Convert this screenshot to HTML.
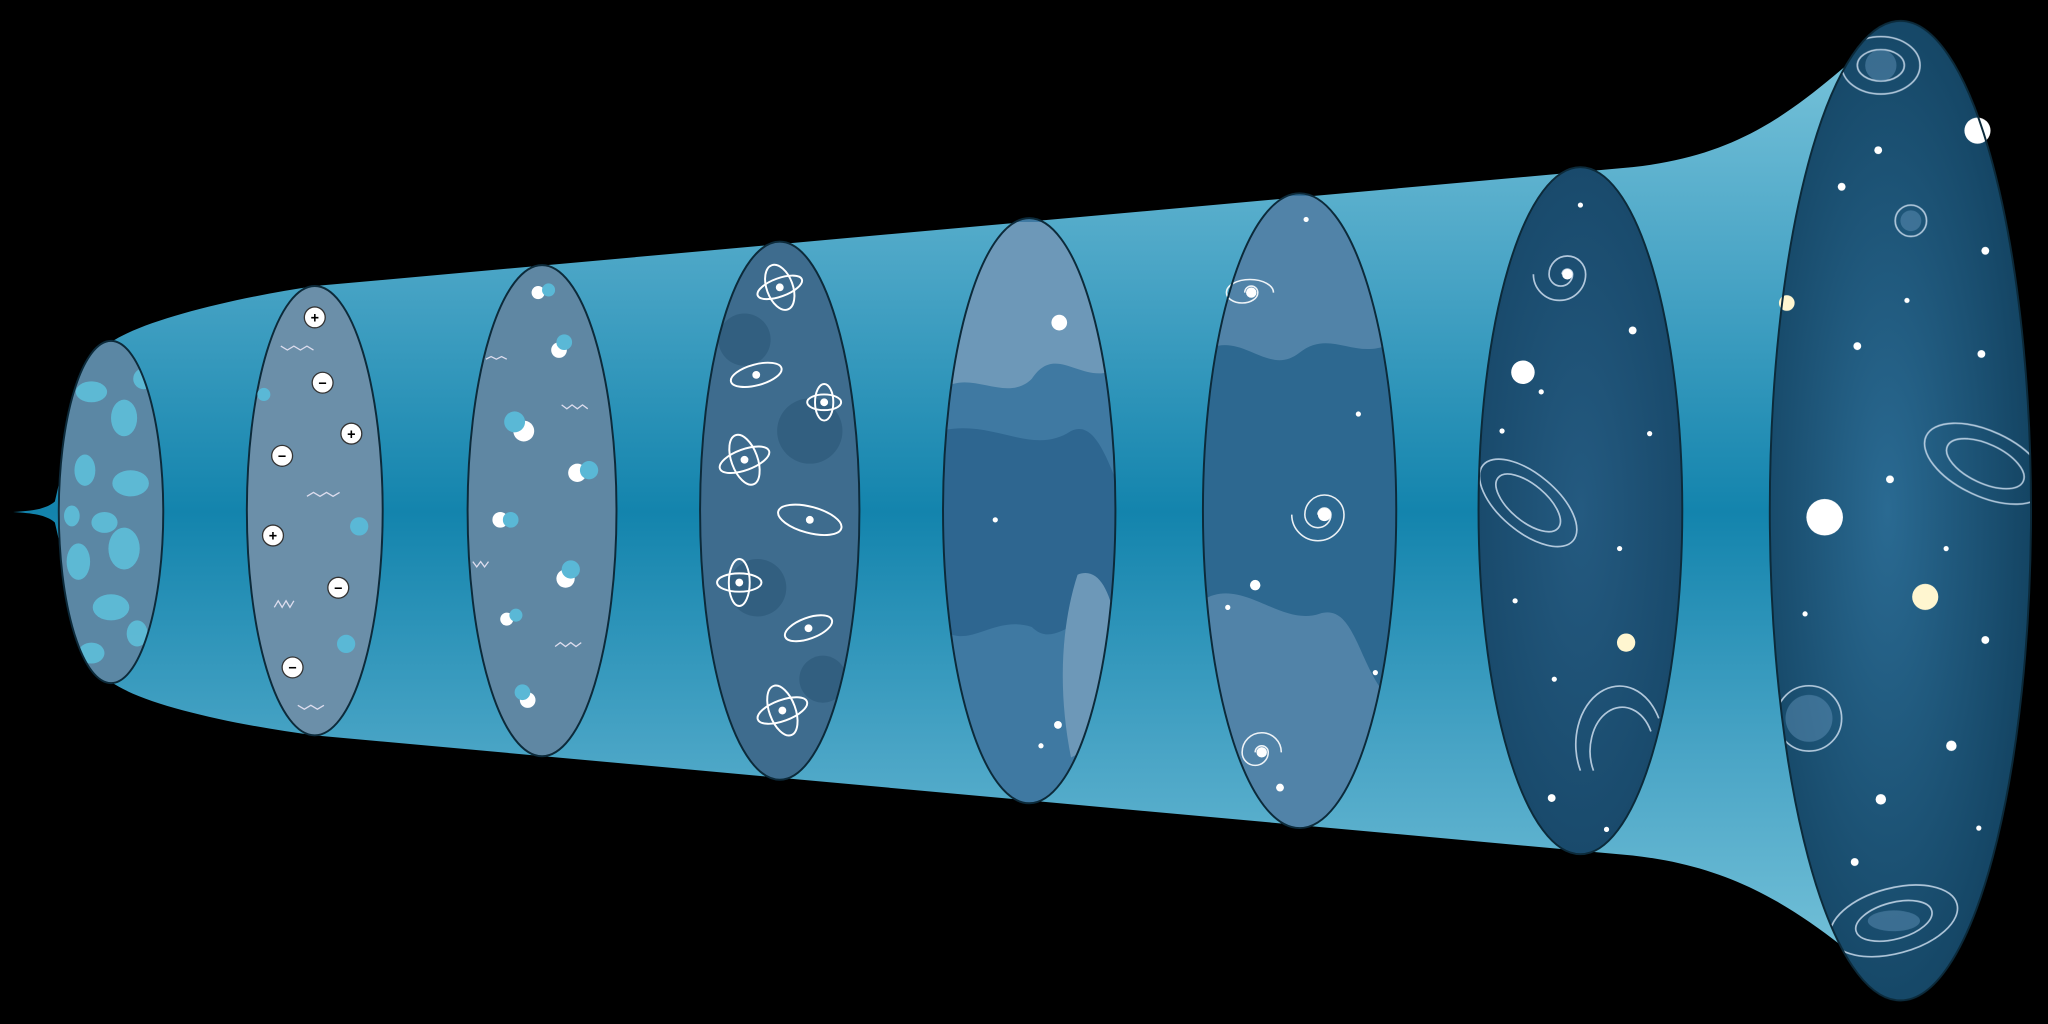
<!DOCTYPE html>
<html><head><meta charset="utf-8"><style>
html,body{margin:0;padding:0;background:#000;width:2048px;height:1024px;overflow:hidden}
svg{display:block}
</style></head><body>
<svg width="2048" height="1024" viewBox="0 0 1568 784" xmlns="http://www.w3.org/2000/svg">
<defs>
<linearGradient id="fun" x1="0" y1="0" x2="0" y2="1">
<stop offset="0" stop-color="#7cc6dc"/><stop offset="0.25" stop-color="#4aa5c6"/>
<stop offset="0.5" stop-color="#1384ad"/><stop offset="0.75" stop-color="#4aa5c6"/>
<stop offset="1" stop-color="#7cc6dc"/></linearGradient>
<radialGradient id="e8" cx="0.45" cy="0.5" r="0.6"><stop offset="0" stop-color="#2a6a92"/><stop offset="1" stop-color="#12415f"/></radialGradient>
<radialGradient id="e7" cx="0.5" cy="0.5" r="0.6"><stop offset="0" stop-color="#245a80"/><stop offset="1" stop-color="#174768"/></radialGradient>
<clipPath id="c1"><ellipse cx="85" cy="392" rx="40" ry="131"/></clipPath>
<clipPath id="c4"><ellipse cx="597" cy="391" rx="61" ry="206"/></clipPath>
<clipPath id="c5"><ellipse cx="788" cy="391" rx="66" ry="224"/></clipPath>
<clipPath id="c6"><ellipse cx="995" cy="391" rx="74" ry="243"/></clipPath>
<clipPath id="c8"><ellipse cx="1455" cy="391" rx="100" ry="375"/></clipPath>
</defs>
<rect width="1568" height="784" fill="#000"/>
<path fill="url(#fun)" d="M10,392 C25,391 35,390 42,384 C55,330 60,280 85,262 C110,245 180,228 241,219 L1250,128 C1340,118 1380,80 1450,18 L1460,766 C1390,705 1340,665 1250,655 L241,563 C180,555 110,540 85,522 C60,505 55,455 42,400 C35,394 25,393 10,392 Z"/>

<g>
<ellipse cx="85" cy="392" rx="40" ry="131" fill="#5b87a4"/>
<g clip-path="url(#c1)" fill="#5fc2dd" opacity="0.85">
<ellipse cx="70" cy="300" rx="12" ry="8"/><ellipse cx="95" cy="320" rx="10" ry="14"/><ellipse cx="65" cy="360" rx="8" ry="12"/>
<ellipse cx="100" cy="370" rx="14" ry="10"/><ellipse cx="80" cy="400" rx="10" ry="8"/><ellipse cx="95" cy="420" rx="12" ry="16"/>
<ellipse cx="60" cy="430" rx="9" ry="14"/><ellipse cx="85" cy="465" rx="14" ry="10"/><ellipse cx="105" cy="485" rx="8" ry="10"/>
<ellipse cx="70" cy="500" rx="10" ry="8"/><ellipse cx="110" cy="290" rx="8" ry="8"/><ellipse cx="55" cy="395" rx="6" ry="8"/>
</g>
<ellipse cx="85" cy="392" rx="40" ry="131" fill="none" stroke="#0c2a3a" stroke-width="1.5"/>
</g>

<g>
<ellipse cx="241" cy="391" rx="52" ry="172" fill="#6b8fa9" stroke="#0c2a3a" stroke-width="1.5"/>
<g fill="#fff" stroke="#333" stroke-width="1"><circle cx="241" cy="243" r="8"/><circle cx="247" cy="293" r="8"/><circle cx="269" cy="332" r="8"/><circle cx="216" cy="349" r="8"/><circle cx="209" cy="410" r="8"/><circle cx="259" cy="450" r="8"/><circle cx="224" cy="511" r="8"/></g>
<g font-family="Liberation Sans, sans-serif" font-size="11" font-weight="bold" text-anchor="middle" fill="#000">
<text x="241" y="247">+</text><text x="247" y="297">−</text><text x="269" y="336">+</text><text x="216" y="353">−</text><text x="209" y="414">+</text><text x="259" y="454">−</text><text x="224" y="515">−</text></g>
<g fill="#5ab8d6"><circle cx="275" cy="403" r="7"/><circle cx="265" cy="493" r="7"/><circle cx="202" cy="302" r="5"/></g>
<g stroke="#dde" stroke-width="1" fill="none"><path d="M215,265 l5,3 l5,-3 l5,3 l5,-3 l5,3"/><path d="M235,380 l5,-3 l5,3 l5,-3 l5,3 l5,-3"/><path d="M210,465 l3,-5 l3,5 l3,-5 l3,5 l3,-5"/><path d="M228,540 l5,3 l5,-3 l5,3 l5,-3"/></g>
</g>

<g>
<ellipse cx="415" cy="391" rx="57" ry="188" fill="#5f87a3" stroke="#0c2a3a" stroke-width="1.5"/>
<g fill="#fff"><circle cx="412" cy="224" r="5"/><circle cx="428" cy="268" r="6"/><circle cx="401" cy="330" r="8"/><circle cx="442" cy="362" r="7"/><circle cx="383" cy="398" r="6"/><circle cx="433" cy="443" r="7"/><circle cx="388" cy="474" r="5"/><circle cx="404" cy="536" r="6"/></g>
<g fill="#5ab8d6"><circle cx="420" cy="222" r="5"/><circle cx="432" cy="262" r="6"/><circle cx="394" cy="323" r="8"/><circle cx="451" cy="360" r="7"/><circle cx="391" cy="398" r="6"/><circle cx="437" cy="436" r="7"/><circle cx="395" cy="471" r="5"/><circle cx="400" cy="530" r="6"/></g>
<g stroke="#dde" stroke-width="1" fill="none"><path d="M430,310 l4,3 l4,-3 l4,3 l4,-3 l4,3"/><path d="M372,275 l4,-2 l4,2 l4,-2 l4,2"/><path d="M425,495 l4,-3 l4,3 l4,-3 l4,3 l4,-3"/><path d="M362,430 l3,4 l3,-4 l3,4 l3,-4"/></g>
</g>

<g>
<ellipse cx="597" cy="391" rx="61" ry="206" fill="#3e6c8e"/>
<g clip-path="url(#c4)" fill="#2c5777" opacity="0.6"><circle cx="570" cy="260" r="20"/><circle cx="620" cy="330" r="25"/><circle cx="580" cy="450" r="22"/><circle cx="630" cy="520" r="18"/></g>
<g stroke="#fff" stroke-width="1.5" fill="none">
<ellipse cx="597" cy="220" rx="10" ry="18" transform="rotate(-20 597 220)"/><ellipse cx="597" cy="220" rx="18" ry="7" transform="rotate(-20 597 220)"/>
<ellipse cx="579" cy="287" rx="20" ry="8" transform="rotate(-15 579 287)"/>
<ellipse cx="631" cy="308" rx="7" ry="14"/><ellipse cx="631" cy="308" rx="13" ry="6"/>
<ellipse cx="570" cy="352" rx="10" ry="20" transform="rotate(-20 570 352)"/><ellipse cx="570" cy="352" rx="20" ry="8" transform="rotate(-20 570 352)"/>
<ellipse cx="620" cy="398" rx="25" ry="10" transform="rotate(15 620 398)"/>
<ellipse cx="566" cy="446" rx="8" ry="18"/><ellipse cx="566" cy="446" rx="17" ry="7"/>
<ellipse cx="619" cy="481" rx="19" ry="8" transform="rotate(-20 619 481)"/>
<ellipse cx="599" cy="544" rx="10" ry="20" transform="rotate(-20 599 544)"/><ellipse cx="599" cy="544" rx="20" ry="8" transform="rotate(-20 599 544)"/>
</g>
<g fill="#fff"><circle cx="597" cy="220" r="3"/><circle cx="579" cy="287" r="3"/><circle cx="631" cy="308" r="3"/><circle cx="570" cy="352" r="3"/><circle cx="620" cy="398" r="3"/><circle cx="566" cy="446" r="3"/><circle cx="619" cy="481" r="3"/><circle cx="599" cy="544" r="3"/></g>
<ellipse cx="597" cy="391" rx="61" ry="206" fill="none" stroke="#0c2a3a" stroke-width="1.5"/>
</g>

<g>
<ellipse cx="788" cy="391" rx="66" ry="224" fill="#3f79a2"/>
<g clip-path="url(#c5)">
<path d="M720,170 L860,170 L860,280 C830,300 810,260 790,290 C770,310 740,280 720,300 Z" fill="#6d98b8"/>
<path d="M720,330 C760,320 790,350 820,330 C840,320 850,360 860,380 L860,470 C830,460 810,500 790,480 C760,470 740,500 720,480 Z" fill="#2e6690"/>
<path d="M825,440 C850,430 860,480 860,560 L820,580 C810,530 812,480 825,440 Z" fill="#6d98b8"/>
</g>
<circle cx="811" cy="247" r="6" fill="#fff"/><circle cx="762" cy="398" r="2" fill="#fff"/><circle cx="810" cy="555" r="3" fill="#fff"/><circle cx="797" cy="571" r="2" fill="#fff"/>
<ellipse cx="788" cy="391" rx="66" ry="224" fill="none" stroke="#0c2a3a" stroke-width="1.5"/>
</g>

<g>
<ellipse cx="995" cy="391" rx="74" ry="243" fill="#2d6890"/>
<g clip-path="url(#c6)" fill="#5a8aae" opacity="0.8">
<path d="M920,150 L1070,150 L1070,260 C1040,280 1020,250 995,270 C970,290 950,250 920,270 Z"/>
<path d="M920,460 C950,440 980,480 1010,470 C1040,460 1040,520 1070,540 L1070,640 L920,640 Z"/>
</g>
<g stroke="#fff" stroke-width="1.2" fill="none" opacity="0.9">
<path d="M1014,394 m-5,0 a5,5 0 1,1 10,0 a10,10 0 1,1 -20,0 a15,15 0 1,1 30,0 a20,20 0 1,1 -40,0"/>
<path d="M966,576 m-5,0 a5,5 0 1,1 10,0 a10,10 0 1,1 -20,0 a15,15 0 1,1 30,0"/>
<path d="M958,224 m-5,0 a5,5 0 1,1 10,0 a12,8 0 1,1 -24,0 a18,10 0 1,1 36,0"/>
</g>
<g fill="#fff"><circle cx="1014" cy="394" r="5"/><circle cx="966" cy="576" r="4"/><circle cx="958" cy="224" r="4"/><circle cx="1000" cy="168" r="2"/><circle cx="961" cy="448" r="4"/><circle cx="940" cy="465" r="2"/><circle cx="1040" cy="317" r="2"/><circle cx="1053" cy="515" r="2"/><circle cx="980" cy="603" r="3"/></g>
<ellipse cx="995" cy="391" rx="74" ry="243" fill="none" stroke="#0c2a3a" stroke-width="1.5"/>
</g>

<g>
<ellipse cx="1210" cy="391" rx="78" ry="263" fill="url(#e7)"/>
<g stroke="#cde" stroke-width="1.3" fill="none" opacity="0.85">
<path d="M1200,210 m-4,0 a4,4 0 1,1 8,0 a9,9 0 1,1 -18,0 a14,14 0 1,1 28,0 a20,20 0 1,1 -40,0"/>
<ellipse cx="1170" cy="385" rx="45" ry="22" transform="rotate(40 1170 385)"/>
<ellipse cx="1170" cy="385" rx="30" ry="14" transform="rotate(40 1170 385)"/>
<path d="M1240,590 m-30,0 a30,40 0 0,1 60,-40"/>
<path d="M1240,590 m-20,0 a22,30 0 0,1 44,-30"/>
</g>
<g fill="#fff"><circle cx="1200" cy="210" r="4"/><circle cx="1166" cy="285" r="9"/><circle cx="1245" cy="492" r="7" fill="#fff6d0"/><circle cx="1210" cy="157" r="2"/><circle cx="1250" cy="253" r="3"/><circle cx="1180" cy="300" r="2"/><circle cx="1263" cy="332" r="2"/><circle cx="1240" cy="420" r="2"/><circle cx="1160" cy="460" r="2"/><circle cx="1190" cy="520" r="2"/><circle cx="1188" cy="611" r="3"/><circle cx="1230" cy="635" r="2"/><circle cx="1150" cy="330" r="2"/></g>
<ellipse cx="1210" cy="391" rx="78" ry="263" fill="none" stroke="#0c2a3a" stroke-width="1.5"/>
</g>

<g>
<ellipse cx="1455" cy="391" rx="100" ry="375" fill="url(#e8)"/>
<g clip-path="url(#c8)">
<g stroke="#cde" stroke-width="1.3" fill="none" opacity="0.85">
<ellipse cx="1440" cy="50" rx="30" ry="22"/><ellipse cx="1440" cy="50" rx="18" ry="12"/>
<circle cx="1463" cy="169" r="12"/>
<ellipse cx="1520" cy="355" rx="50" ry="25" transform="rotate(25 1520 355)"/><ellipse cx="1520" cy="355" rx="32" ry="15" transform="rotate(25 1520 355)"/>
<circle cx="1385" cy="550" r="25"/>
<ellipse cx="1450" cy="705" rx="50" ry="25" transform="rotate(-15 1450 705)"/><ellipse cx="1450" cy="705" rx="30" ry="14" transform="rotate(-15 1450 705)"/>
</g>
<g fill="#5d8fb5" opacity="0.5"><circle cx="1440" cy="50" r="12"/><circle cx="1463" cy="169" r="8"/><circle cx="1385" cy="550" r="18"/><ellipse cx="1450" cy="705" rx="20" ry="8"/></g>
</g>
<g fill="#fff"><circle cx="1397" cy="396" r="14"/><circle cx="1474" cy="457" r="10" fill="#fff6d0"/><circle cx="1514" cy="100" r="10"/><circle cx="1368" cy="232" r="6" fill="#fff6d0"/><circle cx="1438" cy="115" r="3"/><circle cx="1410" cy="143" r="3"/><circle cx="1520" cy="192" r="3"/><circle cx="1422" cy="265" r="3"/><circle cx="1517" cy="271" r="3"/><circle cx="1447" cy="367" r="3"/><circle cx="1382" cy="470" r="2"/><circle cx="1520" cy="490" r="3"/><circle cx="1494" cy="571" r="4"/><circle cx="1440" cy="612" r="4"/><circle cx="1420" cy="660" r="3"/><circle cx="1515" cy="634" r="2"/><circle cx="1460" cy="230" r="2"/><circle cx="1490" cy="420" r="2"/></g>
<ellipse cx="1455" cy="391" rx="100" ry="375" fill="none" stroke="#0c2a3a" stroke-width="1.5"/>
</g>
</svg>
</body></html>
